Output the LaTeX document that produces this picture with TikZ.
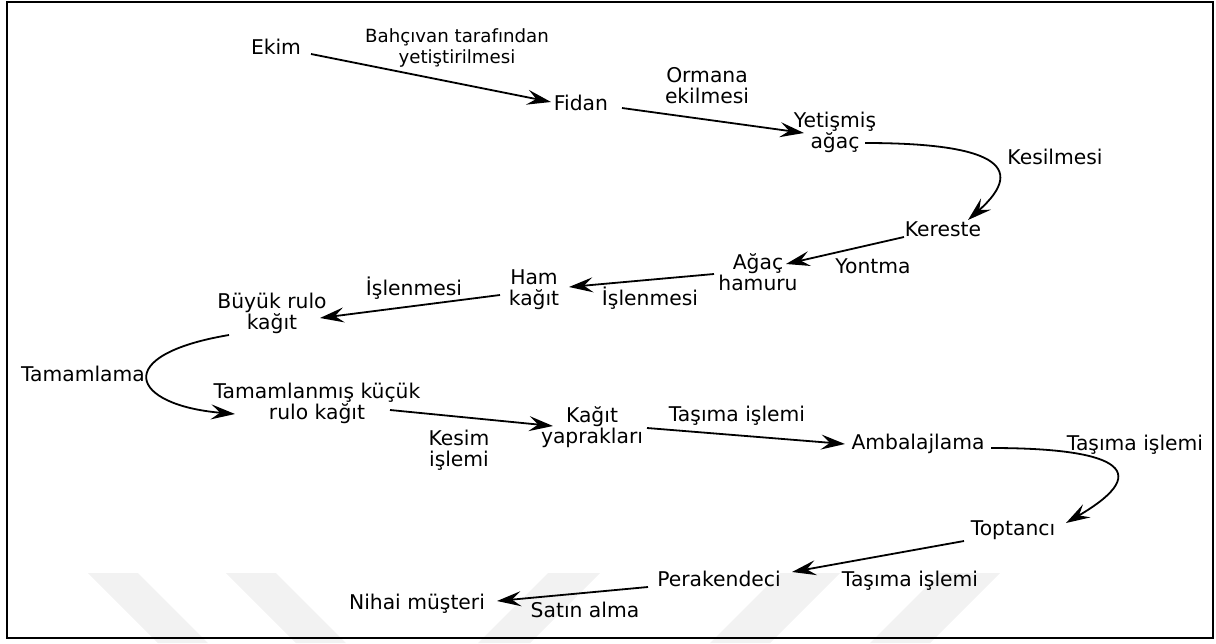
\documentclass[tikz,border=0pt]{standalone}
\usepackage{fontspec}
\setmainfont{DejaVu Sans}
\usetikzlibrary{arrows.meta,calc}
\begin{document}
\begin{tikzpicture}[x=1pt,y=-1pt,
  lbl/.style={font=\fontsize{20.3}{21}\selectfont, align=center, inner sep=0pt},
  small/.style={font=\fontsize{18.2}{21}\selectfont},
  conn/.style={line width=1.8pt, -{Stealth[length=24pt,width=15pt,inset=9pt]}},
  wm/.style={fill=black!5}]
\useasboundingbox (0,0) rectangle (1216,643);

% faint stripes along the bottom edge
\fill[wm] (88,573) -- (138,573) -- (208,643) -- (158,643) -- cycle;
\fill[wm] (226,573) -- (276,573) -- (346,643) -- (296,643) -- cycle;
\fill[wm] (548,573) -- (600,573) -- (530,643) -- (478,643) -- cycle;
\fill[wm] (780,573) -- (840,573) -- (770,643) -- (710,643) -- cycle;
\fill[wm] (940,573) -- (1000,573) -- (930,643) -- (870,643) -- cycle;

% frame
\draw[line width=2.5pt] (7,2) rectangle (1213,638);

% stages
\node[lbl] (ekim)      at (276,47)  {Ekim};
\node[lbl] (fidan)     at (581,103) {Fidan};
\node[lbl] (agac)      at (835,132) {Yetişmiş\\ağaç};
\node[lbl] (kereste)   at (943,229) {Kereste};
\node[lbl] (hamur)     at (758,272) {Ağaç\\hamuru};
\node[lbl] (ham)       at (534,290) {Ham\\kağıt};
\node[lbl] (buyuk)     at (272,313) {Büyük rulo\\kağıt};
\node[lbl] (kucuk)     at (317,403) {Tamamlanmış küçük\\rulo kağıt};
\node[lbl] (yaprak)    at (592,427) {Kağıt\\yaprakları};
\node[lbl] (ambalaj)   at (918,444) {Ambalajlama};
\node[lbl] (toptanci)  at (1013,530) {Toptancı};
\node[lbl] (perakende) at (719,579) {Perakendeci};
\node[lbl] (nihai)     at (417,604) {Nihai müşteri};

% process labels
\node[lbl,small] (l1) at (457,48) {Bahçıvan tarafından\\yetiştirilmesi};
\node[lbl] (l2)  at (707,86)  {Ormana\\ekilmesi};
\node[lbl] (l3)  at (1055,157) {Kesilmesi};
\node[lbl] (l4)  at (873,266) {Yontma};
\node[lbl] (l5)  at (650,298) {İşlenmesi};
\node[lbl] (l6)  at (414,288) {İşlenmesi};
\node[lbl] (l7)  at (83,374)  {Tamamlama};
\node[lbl] (l8)  at (459,450) {Kesim\\işlemi};
\node[lbl] (l9)  at (737,416) {Taşıma işlemi};
\node[lbl] (l10) at (1135,445) {Taşıma işlemi};
\node[lbl] (l11) at (910,581) {Taşıma işlemi};
\node[lbl] (l12) at (585,610) {Satın alma};

% flow
\draw[conn] ($(ekim)+(35,7)$) -- ($(fidan)+(-30,-1)$);
\draw[conn] ($(fidan)+(41,5)$) -- ($(agac)+(-31,1)$);
\draw[conn] ($(agac)+(30,11)$) .. controls +(125,0) and +(62,-55) .. ($(kereste)+(25,-9)$);
\draw[conn] ($(kereste)+(-39,8)$) -- ($(hamur)+(28,-8)$);
\draw[conn] ($(hamur)+(-44,2)$) -- ($(ham)+(35,-3)$);
\draw[conn] ($(ham)+(-34,5)$) -- ($(buyuk)+(48,5)$);
\draw[conn] ($(buyuk)+(-43,22)$) .. controls +(-119,20) and +(-105,-9) .. ($(kucuk)+(-82,11)$);
\draw[conn] ($(kucuk)+(73,7)$) -- ($(yaprak)+(-39,-1)$);
\draw[conn] ($(yaprak)+(55,1)$) -- ($(ambalaj)+(-73,0)$);
\draw[conn] ($(ambalaj)+(73,4)$) .. controls +(119,0) and +(94,-55) .. ($(toptanci)+(53,-7)$);
\draw[conn] ($(toptanci)+(-49,11)$) -- ($(perakende)+(73,-7)$);
\draw[conn] ($(perakende)+(-71,8)$) -- ($(nihai)+(80,-3)$);
\end{tikzpicture}
\end{document}
